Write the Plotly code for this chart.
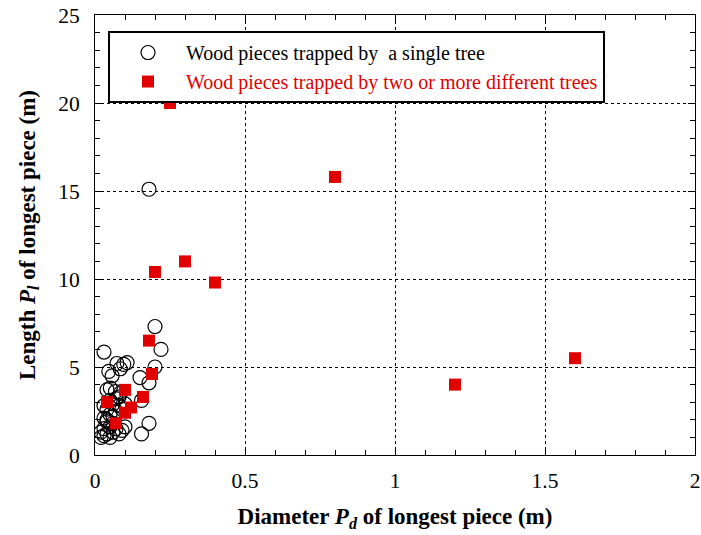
import plotly.graph_objects as go

# Open circles: wood pieces trapped by a single tree (diameter m, length m)
single_d = [0.18, 0.20, 0.22, 0.03, 0.20, 0.18, 0.15, 0.18, 0.155, 0.155,
            0.046, 0.073, 0.096, 0.107, 0.084, 0.057, 0.04, 0.051, 0.068, 0.084,
            0.02, 0.03, 0.04, 0.05, 0.06, 0.03, 0.05, 0.04, 0.03, 0.05,
            0.04, 0.06, 0.07, 0.08, 0.06, 0.03, 0.05, 0.07, 0.08, 0.09,
            0.10, 0.08, 0.07, 0.09, 0.02, 0.10, 0.04, 0.06]
single_l = [15.1, 7.3, 6.0, 5.85, 5.0, 4.1, 4.4, 1.8, 1.2, 3.1,
            4.75, 5.2, 5.15, 5.25, 4.9, 4.5, 3.7, 3.8, 3.6, 3.5,
            1.0, 1.1, 1.2, 1.0, 1.3, 1.5, 1.6, 1.9, 2.1, 2.3,
            2.6, 2.2, 2.5, 2.8, 2.9, 2.8, 3.1, 3.2, 3.3, 2.6,
            2.9, 1.2, 1.5, 1.4, 1.3, 1.6, 2.0, 1.8]

# Filled squares: wood pieces trapped by two or more different trees
multi_d = [0.25, 0.80, 0.30, 0.20, 0.40, 1.20, 1.60, 0.18, 0.19, 0.10,
           0.16, 0.04, 0.12, 0.10, 0.07]
multi_l = [20.0, 15.8, 11.0, 10.4, 9.8, 4.0, 5.5, 6.5, 4.6, 3.7,
           3.3, 3.0, 2.7, 2.4, 1.8]

x_ticks = [0, 0.5, 1, 1.5, 2]
x_labels = ["0", "0.5", "1", "1.5", "2"]
y_ticks = [0, 5, 10, 15, 20, 25]
y_labels = ["0", "5", "10", "15", "20", "25"]

RED = "#e00000"
FONT = "Times New Roman, Liberation Serif, serif"

fig = go.Figure()
fig.add_trace(go.Scatter(
    x=single_d, y=single_l, mode="markers",
    name="Wood pieces trapped by  a single tree",
    marker=dict(symbol="circle-open", size=14, color="black", line=dict(width=1.2, color="black")),
))
fig.add_trace(go.Scatter(
    x=multi_d, y=multi_l, mode="markers",
    name="<span style='color:%s'>Wood pieces trapped by two or more different trees</span>" % RED,
    marker=dict(symbol="square", size=12, color=RED, line=dict(width=0)),
))

axis_common = dict(
    showline=True, linecolor="black", linewidth=1, mirror="allticks",
    ticks="inside", ticklen=7, tickcolor="black", tickwidth=1,
    showgrid=True, gridcolor="black", gridwidth=1, griddash="3px,3px",
    zeroline=False, automargin=False,
    tickfont=dict(family=FONT, size=21.5, color="black"),
)

fig.update_xaxes(
    range=[0, 2], tickvals=x_ticks, ticktext=x_labels,
    minor=dict(dtick=0.1, ticks="inside", ticklen=5, tickcolor="black", showgrid=False),
    title=dict(text="<b>Diameter <i>P</i><sub><i>d</i></sub> of longest piece (m)</b>",
               font=dict(family=FONT, size=23, color="black"), standoff=16),
    ticklabelstandoff=6, ticklabeloverflow="allow",
    **axis_common,
)
fig.update_yaxes(
    range=[0, 25], tickvals=y_ticks, ticktext=y_labels,
    minor=dict(dtick=1, ticks="inside", ticklen=5, tickcolor="black", showgrid=False),
    title=dict(text="<b>Length <i>P</i><sub><i>l</i></sub> of longest piece (m)</b>",
               font=dict(family=FONT, size=23, color="black"), standoff=16),
    ticklabelstandoff=10, ticklabeloverflow="allow",
    **axis_common,
)

fig.update_layout(
    width=701, height=535,
    margin=dict(l=95, r=6, t=15, b=80),
    plot_bgcolor="white", paper_bgcolor="white",
    font=dict(family=FONT, size=19, color="black"),
    legend=dict(
        x=0.0217, y=0.9636, xanchor="left", yanchor="top",
        bgcolor="white", bordercolor="black", borderwidth=2,
        font=dict(family=FONT, size=20, color="black"),
        itemwidth=66,
    ),
)

fig.write_html(
    "out.html",
    config={"displayModeBar": False},
    post_script="document.body.style.margin='0';document.body.style.overflow='hidden';",
)
